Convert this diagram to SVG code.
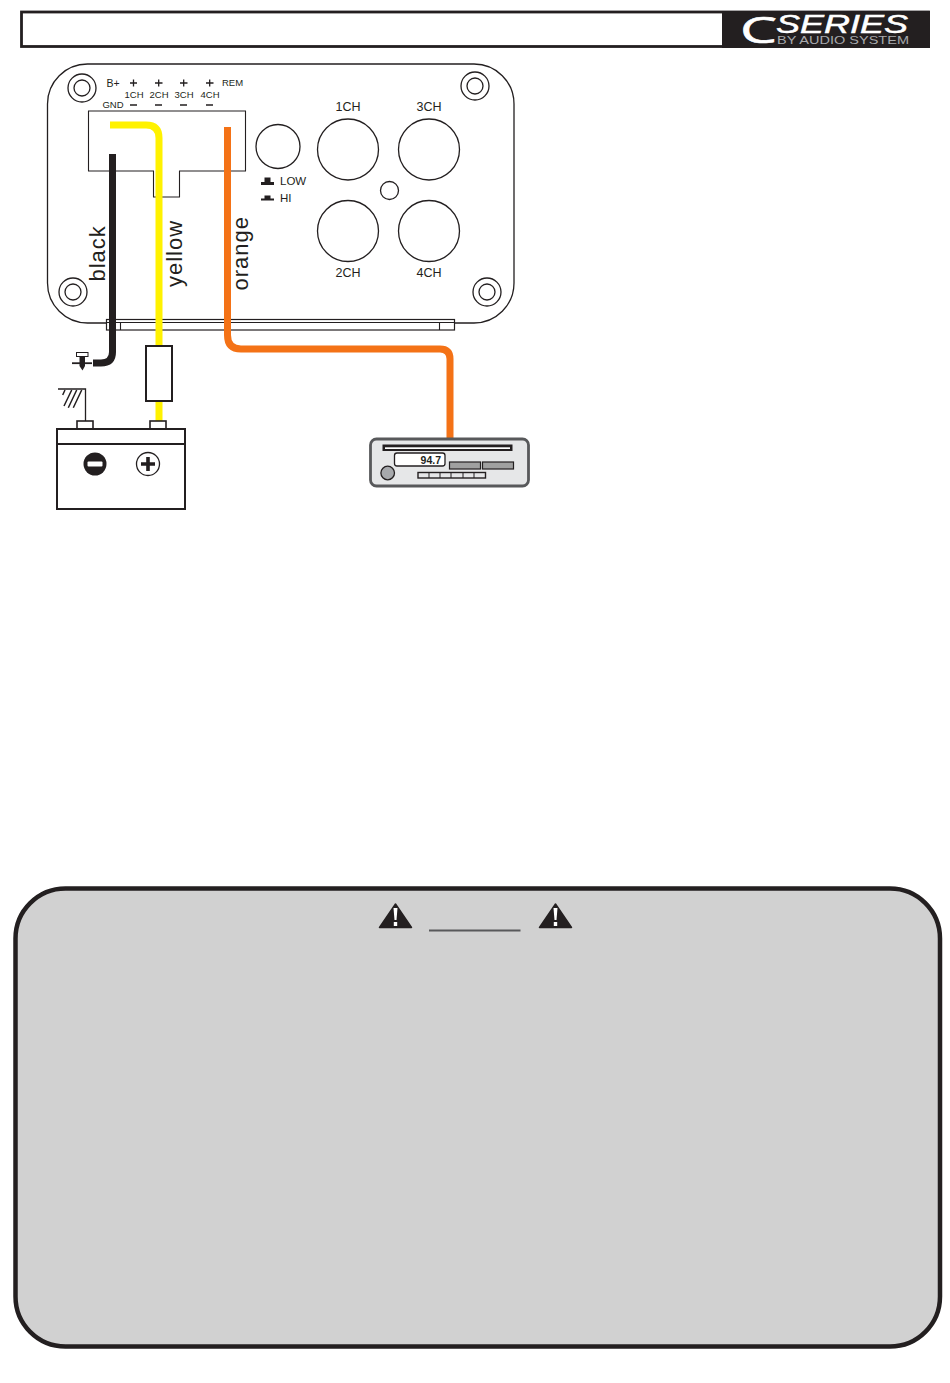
<svg xmlns="http://www.w3.org/2000/svg" width="950" height="1383" viewBox="0 0 950 1383">
<style>
text{font-family:"Liberation Sans",Arial,sans-serif;fill:#231f20}
.o{fill:none;stroke:#231f20}
.w{fill:#fff;stroke:#231f20}
.s{font-size:9.500px;text-anchor:middle}
.m{font-size:12.500px;text-anchor:middle}
.r{font-size:22px;letter-spacing:1px}
.wire{fill:none;stroke-width:7}
</style>
<rect width="950" height="1383" fill="#fff"/>
<g id="header">
<rect x="21.500" y="12" width="907" height="34.500" fill="#fff" stroke="#231f20" stroke-width="2.800"/>
<rect x="722" y="11" width="208" height="37" fill="#231f20"/>
<text x="740" y="42.500" font-size="37" style="fill:#fff;stroke:#fff;stroke-width:.6;font-family:'Open Sans',sans-serif" textLength="37" lengthAdjust="spacingAndGlyphs">C</text>
<text x="776" y="33" font-size="26" font-style="italic" style="fill:#fff;stroke:#fff;stroke-width:.5" textLength="132" lengthAdjust="spacingAndGlyphs">SERIES</text>
<text x="777" y="43.500" font-size="10.500" style="fill:#a7a9ac" textLength="132" lengthAdjust="spacingAndGlyphs">BY AUDIO SYSTEM</text>
</g>
<g id="amplifier">
<rect x="47.500" y="64" width="466.500" height="259" rx="40" class="w" stroke-width="1.300"/>
<rect x="106.500" y="319.500" width="348" height="10.500" class="w" stroke-width="1.200"/>
<path d="M120.500 322.500V330M439.500 322.500V330M106.500 322.500H454.500" class="o" stroke-width="1.100"/>
<g class="o" stroke-width="1.300"><circle cx="82" cy="88" r="14"/><circle cx="82" cy="88" r="8"/><circle cx="475" cy="86" r="14"/><circle cx="475" cy="86" r="8"/><circle cx="73" cy="292" r="14"/><circle cx="73" cy="292" r="8"/><circle cx="487" cy="292" r="14"/><circle cx="487" cy="292" r="8"/><circle cx="278" cy="146.500" r="22"/><circle cx="348" cy="149.500" r="30.500"/><circle cx="429" cy="149.500" r="30.500"/><circle cx="348" cy="231" r="30.500"/><circle cx="429" cy="231" r="30.500"/><circle cx="389.500" cy="190.500" r="9"/></g>
<path d="M88.500 111H245.500V171H179.500V197H153.500V171H88.500Z" class="w" stroke-width="1.100"/>
<text x="113" y="86.500" font-size="10.500" text-anchor="middle">B+</text><text x="113" y="108" class="s">GND</text><text x="232.500" y="86" class="s">REM</text>
<text x="134" y="98" class="s">1CH</text><text x="159" y="98" class="s">2CH</text><text x="184" y="98" class="s">3CH</text><text x="210" y="98" class="s">4CH</text>
<path d="M130 83H137M133.500 79.500V86.500M155 83H162.500M158.700 79.500V86.500M180 83H187.500M183.700 79.500V86.500M206 83H213.500M209.700 79.500V86.500M130 105H137M155 105H162M180 105H187M206 105H213" class="o" stroke-width="1.300"/>
<text x="348" y="111" class="m">1CH</text><text x="429" y="111" class="m">3CH</text><text x="348" y="277" class="m">2CH</text><text x="429" y="277" class="m">4CH</text>
<text x="280" y="185" font-size="11.500">LOW</text><text x="280" y="202" font-size="11.500">HI</text>
<path d="M261 185H274V182H270.500V177.500H264.500V182H261ZM261 200.500H274V198.500H270.500V195.500H264.500V198.500H261Z" fill="#231f20"/>
</g>
<g id="connectors">
<path d="M110 125H146Q159 125 159 138V346M159 401V421" class="wire" stroke="#fff200"/>
<path d="M112.500 154V352Q112.500 363 101 363H93" class="wire" stroke="#231f20"/>
<path d="M227.500 127V335Q227.500 349 241 349H440Q450 349 450 359V438" class="wire" stroke="#f47216"/>
<path d="M58 389H85.500V421" class="o" stroke-width="1.300"/>
<path d="M65 390L62.700 395M71.700 390L64 406M76.700 390L68.300 407.700M81.700 390L73.300 407.700" class="o" stroke-width="1.500"/>
</g>
<g id="labels">
<text transform="translate(105 281.500) rotate(-90)" class="r">black</text>
<text transform="translate(182 287) rotate(-90)" class="r">yellow</text>
<text transform="translate(248 290.500) rotate(-90)" class="r">orange</text>
</g>
<g id="screw">
<rect x="76.500" y="352.500" width="11.500" height="4" class="w" stroke-width="1"/>
<path d="M72 363.200H92" class="o" stroke-width="1.800"/>
<path d="M79.500 356.500H85V366L82.500 370.500L79.500 366Z" fill="#231f20"/>
</g>
<g id="fuse"><rect x="146" y="346" width="26" height="55" class="w" stroke-width="2"/></g>
<g id="battery">
<rect x="77" y="421" width="16" height="8" class="w" stroke-width="1.600"/>
<rect x="150" y="421" width="16" height="8" class="w" stroke-width="1.600"/>
<rect x="57" y="429" width="128" height="80" class="w" stroke-width="2"/>
<path d="M57 444H185" class="o" stroke-width="2"/>
<circle cx="95" cy="464" r="11.500" fill="#231f20"/>
<rect x="87.500" y="461.500" width="15" height="5" rx="1" fill="#fff"/>
<circle cx="148" cy="464" r="11.500" class="w" stroke-width="1.300"/>
<path d="M141 464H155M148 457V471" class="o" stroke-width="3.600"/>
</g>
<g id="radio">
<rect x="370.500" y="439" width="158" height="47" rx="6" fill="#e6e7e8" stroke="#58595b" stroke-width="2.800"/>
<rect x="382.500" y="444.500" width="130" height="6.500" fill="#231f20"/>
<rect x="385" y="447.300" width="125" height="1.700" fill="#fff"/>
<rect x="394.500" y="453" width="50.500" height="13" rx="2.500" class="w" stroke-width="1.300"/>
<text x="441" y="463.500" font-size="10.500" font-weight="bold" text-anchor="end">94.7</text>
<circle cx="387.700" cy="473" r="6.800" fill="#a7a9ac" stroke="#231f20" stroke-width="1.300"/>
<rect x="449.500" y="462" width="31" height="7" fill="#a0a0a0" stroke="#231f20" stroke-width="1.200"/>
<rect x="482.500" y="462" width="31" height="7" fill="#a0a0a0" stroke="#231f20" stroke-width="1.200"/>
<rect x="418" y="472.500" width="67.500" height="5.500" fill="#e6e7e8" stroke="#231f20" stroke-width="1.400"/>
<path d="M429 472.500V478M440 472.500V478M451 472.500V478M463 472.500V478M474 472.500V478" class="o" stroke-width="1"/>
</g>
<g id="warning">
<rect x="15.500" y="888.500" width="924.500" height="458" rx="50" fill="#d1d1d1" stroke="#231f20" stroke-width="4.500"/>
<path d="M429 930.500H520.500" stroke="#58595b" stroke-width="2"/>
<path d="M395.500 904L411.500 927.500H379.500Z" fill="#231f20" stroke="#231f20" stroke-width="1.500" stroke-linejoin="round"/>
<path d="M393.500 908H397.500L396.500 920H394.500ZM393.800 922H397.200V926H393.800Z" fill="#fff"/>
<path d="M555.500 904L571.500 927.500H539.500Z" fill="#231f20" stroke="#231f20" stroke-width="1.500" stroke-linejoin="round"/>
<path d="M553.500 908H557.500L556.500 920H554.500ZM553.800 922H557.200V926H553.800Z" fill="#fff"/>
</g>
</svg>
